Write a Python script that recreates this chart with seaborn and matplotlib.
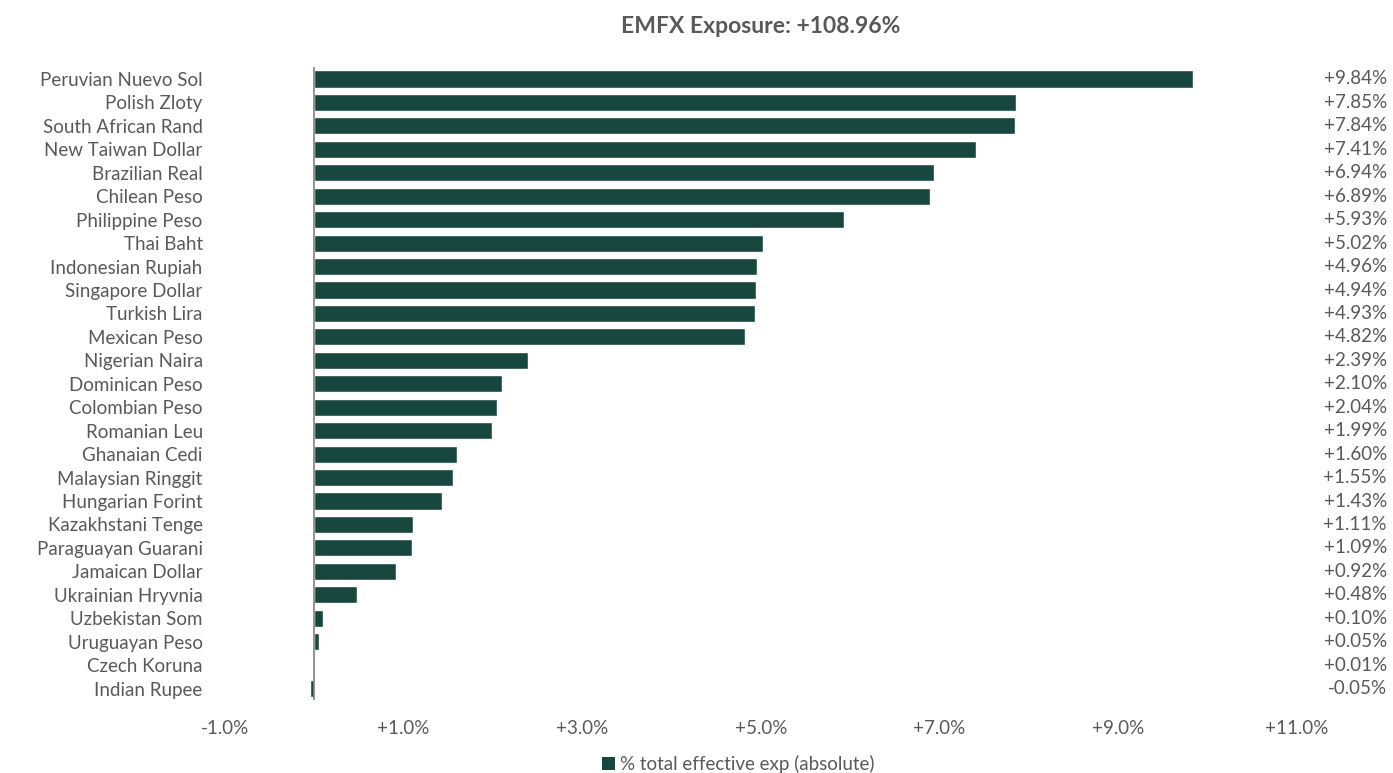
import matplotlib
matplotlib.use("Agg")
import matplotlib.pyplot as plt
import seaborn as sns
import pandas as pd
from matplotlib.patches import Patch

currencies = [
    "Peruvian Nuevo Sol", "Polish Zloty", "South African Rand", "New Taiwan Dollar",
    "Brazilian Real", "Chilean Peso", "Philippine Peso", "Thai Baht",
    "Indonesian Rupiah", "Singapore Dollar", "Turkish Lira", "Mexican Peso",
    "Nigerian Naira", "Dominican Peso", "Colombian Peso", "Romanian Leu",
    "Ghanaian Cedi", "Malaysian Ringgit", "Hungarian Forint", "Kazakhstani Tenge",
    "Paraguayan Guarani", "Jamaican Dollar", "Ukrainian Hryvnia", "Uzbekistan Som",
    "Uruguayan Peso", "Czech Koruna", "Indian Rupee",
]
exposure = [
    9.84, 7.85, 7.84, 7.41, 6.94, 6.89, 5.93, 5.02, 4.96, 4.94, 4.93, 4.82,
    2.39, 2.10, 2.04, 1.99, 1.60, 1.55, 1.43, 1.11, 1.09, 0.92, 0.48, 0.10,
    0.05, 0.01, -0.05,
]
x_ticks = [-1, 1, 3, 5, 7, 9, 11]
title = "EMFX Exposure: +108.96%"
legend_label = "% total effective exp (absolute)"

bar_color = "#17473f"
text_color = "#595959"

sns.set_theme(style="white")
plt.rcParams["font.family"] = ["Lato", "DejaVu Sans"]

df = pd.DataFrame({"currency": currencies, "exposure": exposure})

fig = plt.figure(figsize=(13.93, 7.73), dpi=100)
ax = fig.add_axes([0.1615, 0.094, 0.7695, 0.819])

sns.barplot(data=df, x="exposure", y="currency", color=bar_color,
            saturation=1, width=0.73, ax=ax, orient="h")

ax.set_xlim(-1, 11)
ax.set_ylim(len(currencies) - 0.5, -0.5)
ax.set_xticks(x_ticks)
ax.set_xticklabels([f"{t:+.1f}%" for t in x_ticks], color=text_color, fontsize=13.5)
ax.tick_params(axis="x", length=0, pad=14)
ax.tick_params(axis="y", length=0, pad=16)
for lbl in ax.get_yticklabels():
    lbl.set_color(text_color)
    lbl.set_fontsize(13.5)
ax.set_xlabel("")
ax.set_ylabel("")
for s in ax.spines.values():
    s.set_visible(False)
ax.axvline(0, color="#808080", lw=1.2, zorder=3)

# value labels at right edge
for i, v in enumerate(exposure):
    ax.text(1.084, i, f"{v:+.2f}%", transform=ax.get_yaxis_transform(),
            ha="right", va="center", color=text_color, fontsize=13.5)

fig.text(0.546, 0.966, title, ha="center", va="center", fontsize=16.5,
         fontweight="bold", color=text_color)

handle = Patch(facecolor=bar_color, edgecolor="none")
fig.legend([handle], [legend_label], loc="center", bbox_to_anchor=(0.53, 0.012),
           frameon=False, fontsize=13.5, handlelength=0.7, handleheight=0.7,
           handletextpad=0.3, labelcolor=text_color)

fig.savefig("out.png", dpi=100)
